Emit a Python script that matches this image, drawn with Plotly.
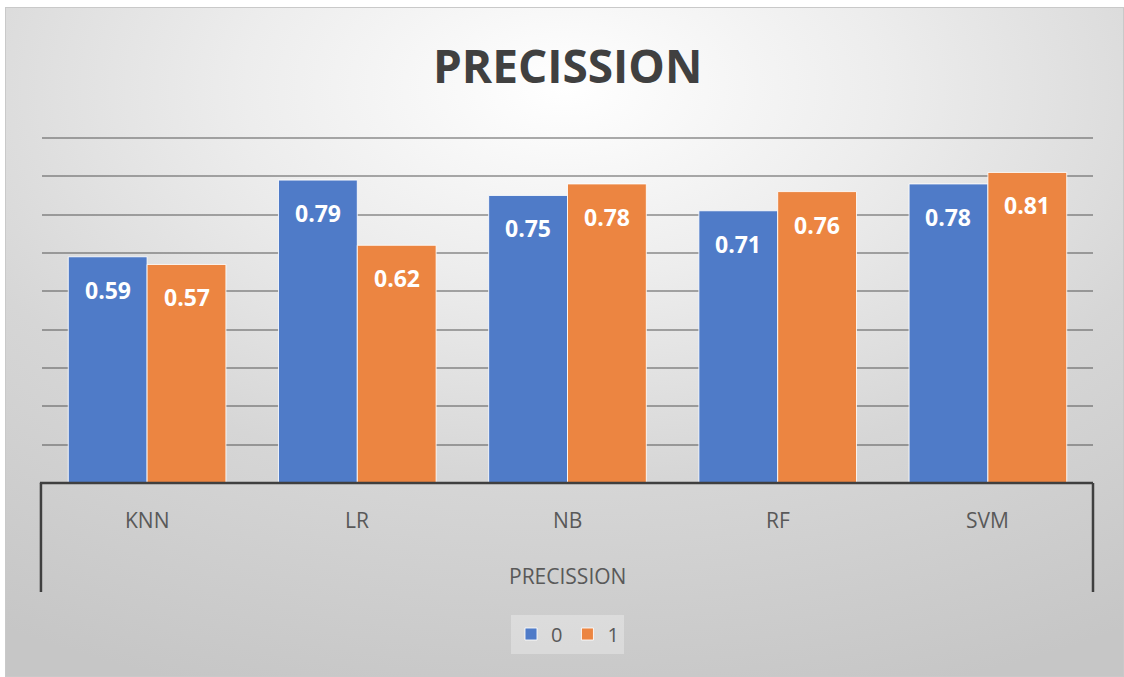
import base64
import plotly.graph_objects as go

# Precision per model for each class
models = ["KNN", "LR", "NB", "RF", "SVM"]
class_names = ["0", "1"]
precision_0 = [0.59, 0.79, 0.75, 0.71, 0.78]
precision_1 = [0.57, 0.62, 0.78, 0.76, 0.81]
chart_title = "PRECISSION"
axis_title = "PRECISSION"

BLUE = "#4f7bc8"
ORANGE = "#ec8541"
TEXT_GREY = "#595959"
FONT = "Open Sans, Noto Sans, sans-serif"

W, H = 1124, 677
Y_MAX = 0.905
M_L, M_R, M_T, M_B = 42, 31, 136, 194
PW, PH = W - M_L - M_R, H - M_T - M_B

# soft radial backdrop for the chart area
svg = (
    '<svg xmlns="http://www.w3.org/2000/svg" width="1119" height="670" viewBox="0 0 1119 670">'
    '<defs><radialGradient id="g" cx="0.5" cy="0.12" r="0.95">'
    '<stop offset="0" stop-color="#ffffff"/>'
    '<stop offset="0.3" stop-color="#ededed"/>'
    '<stop offset="0.62" stop-color="#d6d6d6"/>'
    '<stop offset="1" stop-color="#c6c6c6"/>'
    '</radialGradient></defs>'
    '<rect x="0" y="0" width="1119" height="670" fill="url(#g)"/>'
    '<rect x="0.5" y="0.5" width="1118" height="669" fill="none" stroke="#c9c9c9" stroke-width="1"/>'
    '</svg>'
)
bg_src = "data:image/svg+xml;base64," + base64.b64encode(svg.encode()).decode()

fig = go.Figure()
series = [(class_names[0], precision_0, BLUE), (class_names[1], precision_1, ORANGE)]
for name, vals, col in series:
    fig.add_trace(go.Bar(
        x=models, y=vals, name=name,
        marker=dict(color=col, line=dict(color="rgba(255,255,255,0.85)", width=1)),
        hoverinfo="skip",
    ))

# value labels just inside the top of each bar
bar_px = PW / len(models) * (1 - 0.25) / 2
annotations = []
for k, (name, vals, col) in enumerate(series):
    shift = (-0.5 if k == 0 else 0.5) * bar_px
    for m, v in zip(models, vals):
        annotations.append(dict(
            x=m, y=v, xref="x", yref="y", xshift=shift, yshift=-33,
            text=f"<b>{v:.2f}</b>", showarrow=False, yanchor="middle",
            font=dict(family=FONT, size=23, color="white"),
        ))

# category labels and the outer axis label
for m in models:
    annotations.append(dict(
        x=m, y=-37 / PH, xref="x", yref="y domain", text=m, showarrow=False,
        yanchor="middle", font=dict(family=FONT, size=21, color=TEXT_GREY),
    ))
annotations.append(dict(
    x=0.5, y=-93 / PH, xref="x domain", yref="y domain", text=axis_title,
    showarrow=False, yanchor="middle", font=dict(family=FONT, size=21, color=TEXT_GREY),
))

frame = dict(color="#3f3f3f", width=2.5)
drop = -109 / PH
shapes = [
    dict(type="line", xref="x domain", yref="y domain", x0=-0.002, x1=1.0, y0=0, y1=0, line=frame),
    dict(type="line", xref="x domain", yref="y domain", x0=-0.001, x1=-0.001, y0=0, y1=drop, line=frame),
    dict(type="line", xref="x domain", yref="y domain", x0=1.0, x1=1.0, y0=0, y1=drop, line=frame),
]

fig.update_layout(
    width=W, height=H,
    margin=dict(l=M_L, r=M_R, t=M_T, b=M_B),
    paper_bgcolor="white", plot_bgcolor="rgba(0,0,0,0)",
    barmode="group", bargap=0.25, bargroupgap=0,
    title=dict(
        text=f"<b>{chart_title}</b>", x=0.505, xanchor="center",
        y=1 - 67 / H, yanchor="middle", yref="container",
        font=dict(family=FONT, size=46, color="#404040"),
    ),
    xaxis=dict(showticklabels=False, showgrid=False, zeroline=False, showline=False, ticks=""),
    yaxis=dict(
        range=[0, Y_MAX], dtick=0.1, tick0=0, showticklabels=False, ticks="",
        showgrid=True, gridcolor="rgba(70,70,70,0.45)", gridwidth=1.5,
        zeroline=False, showline=False,
    ),
    legend=dict(
        orientation="h", x=0.5, xanchor="center", y=-151 / PH, yanchor="middle",
        bgcolor="rgba(255,255,255,0.3)", font=dict(family=FONT, size=20, color=TEXT_GREY),
        itemwidth=30, tracegroupgap=0,
    ),
    images=[dict(
        source=bg_src, xref="paper", yref="paper",
        x=(5 - M_L) / PW, y=(H - M_B - 7) / PH, sizex=1119 / PW, sizey=670 / PH,
        xanchor="left", yanchor="top", sizing="stretch", layer="below",
    )],
    annotations=annotations,
    shapes=shapes,
    showlegend=True,
)

fig.write_html("out.html")
